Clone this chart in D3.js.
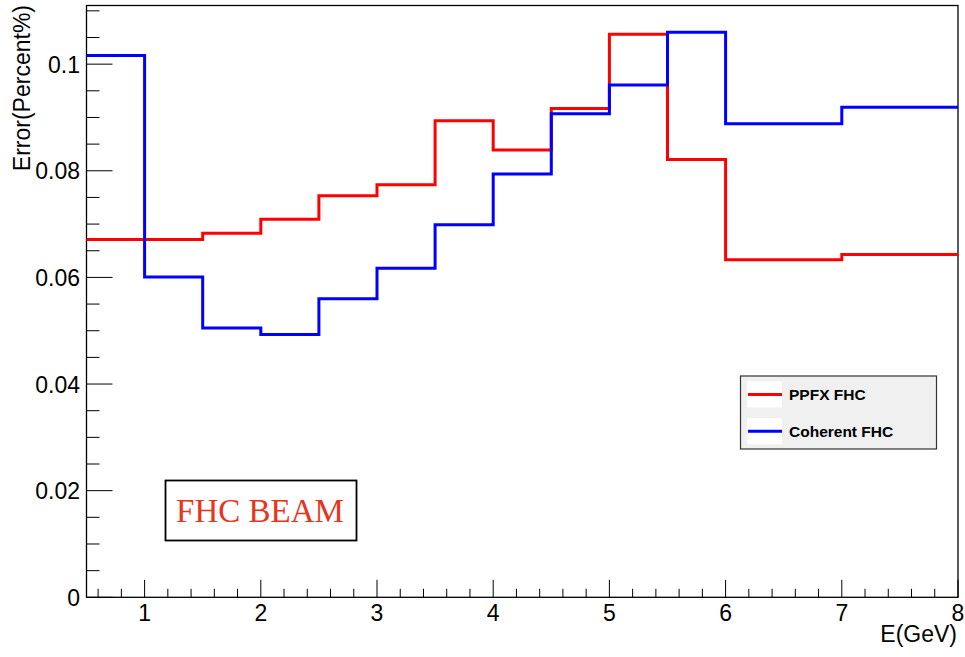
<!DOCTYPE html>
<html><head><meta charset="utf-8">
<script src="https://cdn.jsdelivr.net/npm/d3@7"></script>
<style>body{margin:0;background:#fff;} svg{display:block;}</style>
</head><body>
<svg id="c" width="965" height="657"></svg>
<script>
const binEdges = [0.5,1,1.5,2,2.5,3,3.5,4,4.5,5,5.5,6,7,8];
const ppfxFHC = [0.0671,0.0671,0.0683,0.0709,0.0753,0.0774,0.0894,0.0839,0.0917,0.1056,0.0821,0.0633,0.0643];
const coherentFHC = [0.1016,0.0601,0.0505,0.0493,0.0560,0.0617,0.0699,0.0794,0.0907,0.0961,0.1060,0.0888,0.0919];
const xTicks = [1,2,3,4,5,6,7,8];
const yTicks = [0,0.02,0.04,0.06,0.08,0.1];
const seriesNames = ["PPFX FHC","Coherent FHC"];
const seriesColors = ["#ff0000","#0000ff"];

const svg = d3.select("#c");
const L=86.5, R=958, T=5.5, B=597.3;
const x = d3.scaleLinear().domain([0.5,8]).range([L,R]);
const y = d3.scaleLinear().domain([0,0.1110]).range([B,T]);
const font = "Helvetica, 'Liberation Sans', Arial, sans-serif";

// frame
svg.append("rect").attr("x",L).attr("y",T).attr("width",R-L).attr("height",B-T)
  .attr("fill","none").attr("stroke","#000").attr("stroke-width",1.3);

// x minor ticks
const xMinor = d3.range(0.6,8.0001,0.2).filter(v=>Math.abs(v-Math.round(v))>1e-6);
svg.append("g").selectAll("line").data(xMinor).join("line")
  .attr("x1",d=>x(d)).attr("x2",d=>x(d)).attr("y1",B).attr("y2",B-8.5)
  .attr("stroke","#000").attr("stroke-width",1);
svg.append("g").selectAll("line").data(xTicks).join("line")
  .attr("x1",d=>x(d)).attr("x2",d=>x(d)).attr("y1",B).attr("y2",B-17.5)
  .attr("stroke","#000").attr("stroke-width",1);
svg.append("g").selectAll("text").data(xTicks).join("text")
  .attr("x",d=>x(d)).attr("y",621).attr("text-anchor","middle")
  .attr("font-family",font).attr("font-size",23).text(d=>d);

// y ticks
const yMinor = d3.range(0.005,0.1101,0.005).filter(v=>Math.abs(v/0.02-Math.round(v/0.02))>1e-6);
svg.append("g").selectAll("line").data(yMinor).join("line")
  .attr("x1",L).attr("x2",L+13).attr("y1",d=>y(d)).attr("y2",d=>y(d))
  .attr("stroke","#000").attr("stroke-width",1);
svg.append("g").selectAll("line").data(yTicks).join("line")
  .attr("x1",L).attr("x2",L+26).attr("y1",d=>y(d)).attr("y2",d=>y(d))
  .attr("stroke","#000").attr("stroke-width",1);
svg.append("g").selectAll("text").data(yTicks).join("text")
  .attr("x",80).attr("y",d=>y(d)+8.5).attr("text-anchor","end")
  .attr("font-family",font).attr("font-size",23).text(d=>d===0?"0":String(d));

// axis titles
svg.append("text").attr("x",957).attr("y",642).attr("text-anchor","end")
  .attr("font-family",font).attr("font-size",23).text("E(GeV)");
svg.append("text").attr("transform","translate(29.5,5) rotate(-90)").attr("text-anchor","end")
  .attr("font-family",font).attr("font-size",23).text("Error(Percent%)");

// histograms
function stepPath(vals){
  const pts=[];
  vals.forEach((v,i)=>{pts.push([x(binEdges[i]),y(v)]);pts.push([x(binEdges[i+1]),y(v)]);});
  return d3.line()(pts);
}
[ppfxFHC,coherentFHC].forEach((vals,i)=>{
  svg.append("path").attr("d",stepPath(vals)).attr("fill","none")
    .attr("stroke",seriesColors[i]).attr("stroke-width",3);
});

// legend
const lg = svg.append("g");
lg.append("rect").attr("x",740.5).attr("y",376).attr("width",196).attr("height",73)
  .attr("fill","#f0f0f0").attr("stroke","#333").attr("stroke-width",1.2);
seriesNames.forEach((n,i)=>{
  const yy = 394.5 + i*36.7;
  lg.append("rect").attr("x",747).attr("y",yy-13).attr("width",35).attr("height",26).attr("fill","#fff");
  lg.append("line").attr("x1",748).attr("x2",782).attr("y1",yy).attr("y2",yy)
    .attr("stroke",seriesColors[i]).attr("stroke-width",3);
  lg.append("text").attr("x",789).attr("y",yy+5.5).attr("font-family",font)
    .attr("font-weight","bold").attr("font-size",15.5).text(n);
});

// FHC BEAM label
svg.append("rect").attr("x",165.5).attr("y",480.5).attr("width",191).attr("height",60)
  .attr("fill","#fff").attr("stroke","#000").attr("stroke-width",1.8);
svg.append("text").attr("x",260).attr("y",521.5).attr("text-anchor","middle")
  .attr("font-family","'Liberation Serif', 'Times New Roman', serif").attr("font-size",33)
  .attr("fill","#e8341c").text("FHC BEAM");
</script>
</body></html>
